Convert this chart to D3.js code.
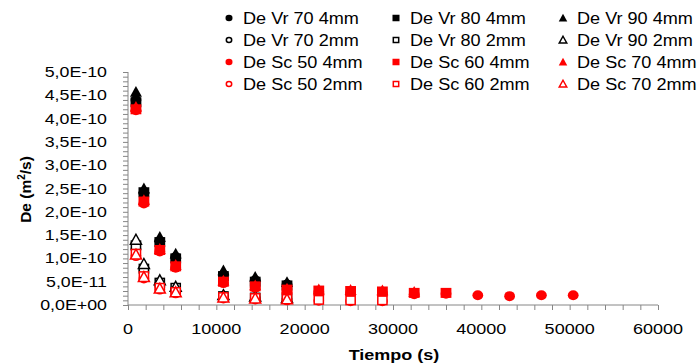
<!DOCTYPE html>
<html><head><meta charset="utf-8">
<script src="https://cdn.jsdelivr.net/npm/d3@7"></script>
<style>body{margin:0;background:#fff}svg{display:block}</style>
</head><body>
<svg id="c" width="698" height="364"></svg>
<script>
const times = [900,1800,3600,5400,10800,14400,18000,21600,25200,28800,32400,36000,39600,43200,46800,50400];
const vr70_4 = [4.40,2.40,1.37,1.03,0.65,0.53,0.44];
const vr80_4 = [4.35,2.42,1.35,1.00,0.62,0.50,0.42];
const vr90_4 = [4.57,2.50,1.46,1.10,0.74,0.60,0.49];
const vr70_2 = [1.20,0.75,0.45,0.35,0.18,0.15,0.13];
const vr80_2 = [1.28,0.78,0.48,0.37,0.19,0.16,0.14];
const vr90_2 = [1.40,0.88,0.53,0.39,0.21,0.18,0.15];
const sc50_4 = [4.18,2.18,1.15,0.80,0.47,0.37,0.30,0.28,0.27,0.26,0.23,0.24,0.21,0.19,0.21,0.21];
const sc60_4 = [4.20,2.22,1.18,0.83,0.50,0.40,0.33,0.31,0.30,0.29,0.26,0.26];
const sc70_4 = [4.25,2.25,1.20,0.86,0.52,0.42,0.35,0.33,0.32,0.31,0.28];
const sc50_2 = [1.05,0.57,0.33,0.25,0.14,0.12,0.10,0.09,0.08,0.08];
const sc60_2 = [1.10,0.62,0.37,0.28,0.17,0.15,0.13,0.11,0.10,0.10];
const sc70_2 = [1.08,0.60,0.35,0.27,0.16,0.14,0.12];
const SCALE = 1e-10;
const yTickLabels = ["0,0E+00","5,0E-11","1,0E-10","1,5E-10","2,0E-10","2,5E-10","3,0E-10","3,5E-10","4,0E-10","4,5E-10","5,0E-10"];
const xTickLabels = ["0","10000","20000","30000","40000","50000","60000"];

const series = [
  {name:"De Vr 70 4mm", vals:vr70_4, shape:"circle", color:"#000", fill:true},
  {name:"De Vr 80 4mm", vals:vr80_4, shape:"square", color:"#000", fill:true},
  {name:"De Vr 90 4mm", vals:vr90_4, shape:"triangle", color:"#000", fill:true},
  {name:"De Vr 70 2mm", vals:vr70_2, shape:"circle", color:"#000", fill:false},
  {name:"De Vr 80 2mm", vals:vr80_2, shape:"square", color:"#000", fill:false},
  {name:"De Vr 90 2mm", vals:vr90_2, shape:"triangle", color:"#000", fill:false},
  {name:"De Sc 50 4mm", vals:sc50_4, shape:"circle", color:"#ff0000", fill:true},
  {name:"De Sc 60 4mm", vals:sc60_4, shape:"square", color:"#ff0000", fill:true},
  {name:"De Sc 70 4mm", vals:sc70_4, shape:"triangle", color:"#ff0000", fill:true},
  {name:"De Sc 50 2mm", vals:sc50_2, shape:"circle", color:"#ff0000", fill:false},
  {name:"De Sc 60 2mm", vals:sc60_2, shape:"square", color:"#ff0000", fill:false},
  {name:"De Sc 70 2mm", vals:sc70_2, shape:"triangle", color:"#ff0000", fill:false}
];

const svg = d3.select("#c");
const L=128, R=658, T=72, B=305;
const x = d3.scaleLinear().domain([0,60000]).range([L,R]);
const y = d3.scaleLinear().domain([0,5e-10]).range([B,T]);
const font = "'Liberation Sans', Arial, sans-serif";
const axisCol = "#868686";

function stretch(sel, k){
  sel.each(function(){
    const w = this.getComputedTextLength();
    d3.select(this).attr("textLength", w*k).attr("lengthAdjust","spacingAndGlyphs");
  });
}

// y axis
const yAx = svg.append("g").attr("transform",`translate(${L},0)`);
yAx.call(d3.axisLeft(y).tickValues(d3.range(0,51).map(i=>i*1e-11)).tickSize(5).tickFormat(""));
yAx.selectAll("line").attr("stroke",axisCol);
yAx.select(".domain").attr("stroke",axisCol).attr("d",`M0,${B}V${T}`);
const yl = svg.append("g");
yTickLabels.forEach((t,i)=>{
  yl.append("text").attr("x",L-21).attr("y",y(i*5e-11)+5).attr("text-anchor","end")
    .attr("font-family",font).attr("font-size",14).attr("fill","#000").text(t);
});
stretch(yl.selectAll("text"), 1.27);
// x axis
const xAx = svg.append("g").attr("transform",`translate(0,${B})`);
xAx.call(d3.axisBottom(x).tickValues(d3.range(0,31).map(i=>i*2000)).tickSize(5).tickFormat(""));
xAx.selectAll("line").attr("stroke",axisCol);
xAx.select(".domain").attr("stroke",axisCol).attr("d",`M${L},0H${R}`);
const xl = svg.append("g");
xTickLabels.forEach((t,i)=>{
  xl.append("text").attr("x",x(i*10000)).attr("y",B+29).attr("text-anchor","middle")
    .attr("font-family",font).attr("font-size",15).attr("fill","#000").text(t);
});
stretch(xl.selectAll("text"), 1.2);
// titles
const xt = svg.append("text").attr("x",x(30000)+1).attr("y",360).attr("text-anchor","middle")
  .attr("font-family",font).attr("font-size",15).attr("font-weight","bold").text("Tiempo (s)");
stretch(xt, 1.2);
const yt = svg.append("text").attr("transform",`translate(31,${(T+B)/2+1}) rotate(-90)`).attr("text-anchor","middle")
  .attr("font-family",font).attr("font-size",15.5).attr("font-weight","bold");
yt.append("tspan").text("De (m");
yt.append("tspan").attr("font-size",10).attr("dy",-6).text("2");
yt.append("tspan").attr("dy",6).text("/s)");

function drawMarker(g, s, cx, cy, size){
  const sw = 1.5;
  const fill = s.fill ? s.color : "#fff";
  if(s.shape==="circle"){
    g.append("ellipse").attr("cx",cx).attr("cy",cy).attr("rx",(s.fill?size/2:size/2-sw/2)*1.08).attr("ry",s.fill?size/2:size/2-sw/2)
      .attr("fill",fill).attr("stroke",s.fill?"none":s.color).attr("stroke-width",sw);
  } else if(s.shape==="square"){
    const h = s.fill?size/2:size/2-sw/2;
    g.append("rect").attr("x",cx-h*1.08).attr("y",cy-h).attr("width",2*h*1.08).attr("height",2*h)
      .attr("fill",fill).attr("stroke",s.fill?"none":s.color).attr("stroke-width",sw);
  } else {
    const h = s.fill?size/2+1:size/2+0.5;
    g.append("path").attr("d",`M${cx},${cy-h}L${cx+h},${cy+h*0.8}L${cx-h},${cy+h*0.8}Z`)
      .attr("fill",fill).attr("stroke",s.fill?"none":s.color).attr("stroke-width",sw).attr("stroke-linejoin","miter");
  }
}

// points
const pg = svg.append("g");
series.forEach(s=>{
  s.vals.forEach((v,i)=>{
    drawMarker(pg, s, x(times[i]), y(v*SCALE), 10);
  });
});

// legend
const colX=[229,396,563], rowY=[18,40,62,84];
const lg = svg.append("g");
const lt = svg.append("g");
series.forEach((s,i)=>{
  const cx = colX[i%3], cy = rowY[Math.floor(i/3)];
  drawMarker(lg, s, cx, cy, 6.5);
  lt.append("text").attr("x",cx+14).attr("y",cy+5.5).attr("font-family",font).attr("font-size",16)
    .attr("fill","#000").text(s.name);
});
stretch(lt.selectAll("text"), 1.13);
</script>
</body></html>
